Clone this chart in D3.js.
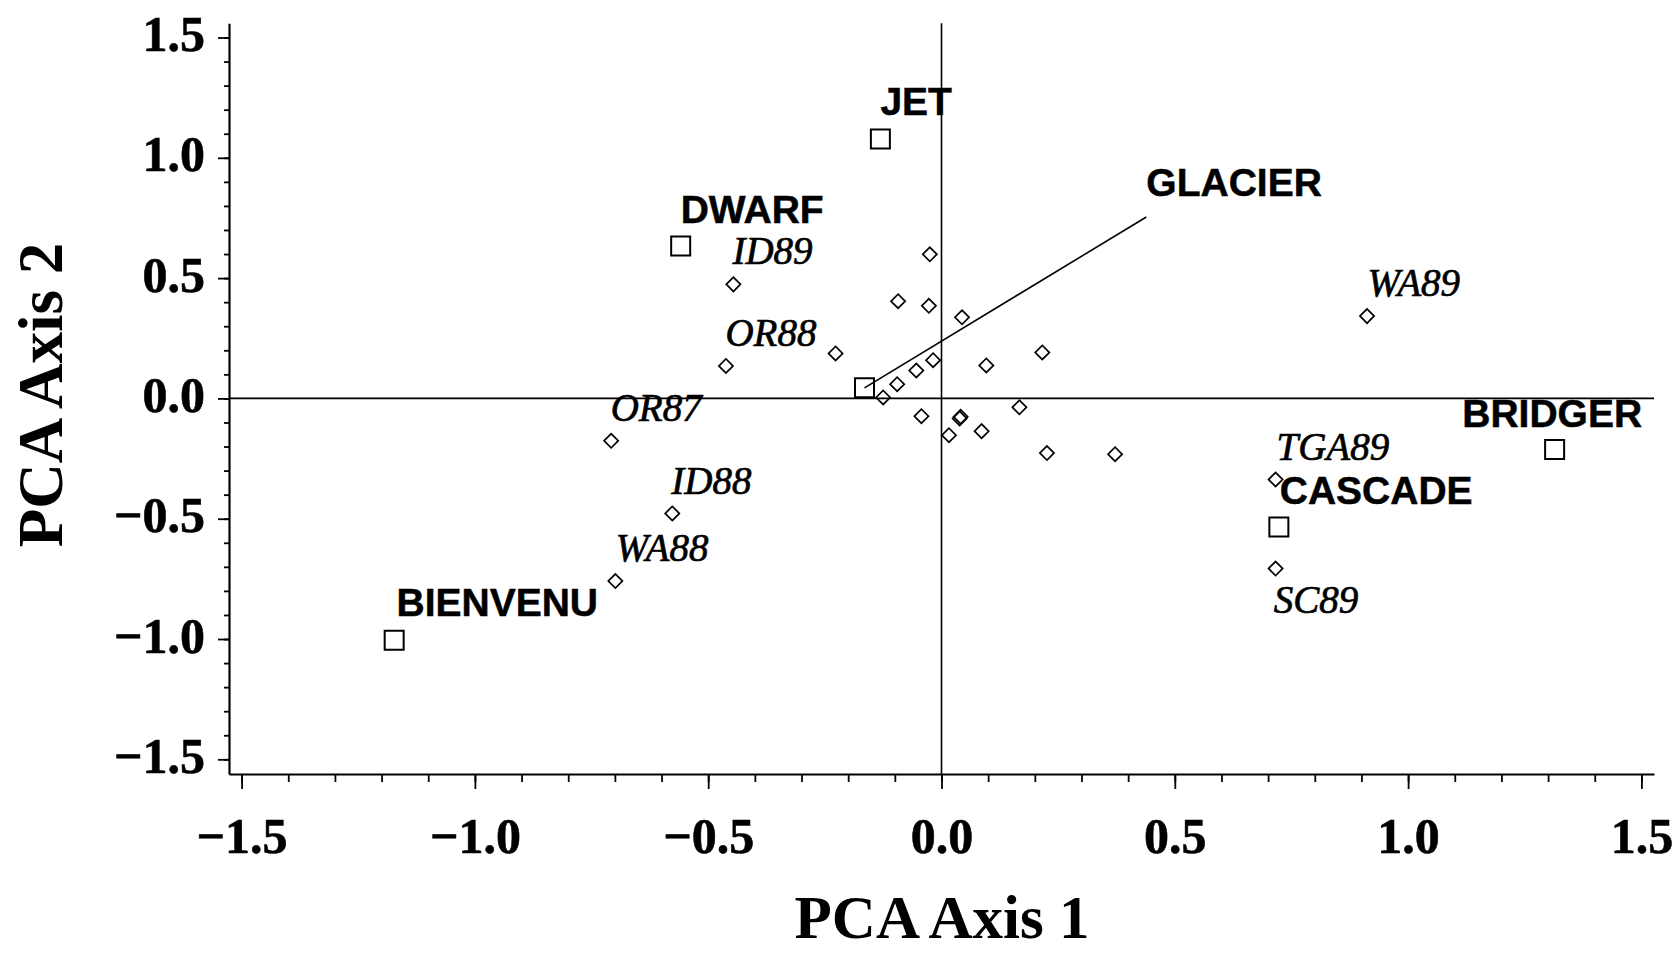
<!DOCTYPE html>
<html><head><meta charset="utf-8">
<script src="https://cdn.jsdelivr.net/npm/d3@7"></script>
<style>body{margin:0;background:#fff} svg{display:block}</style>
</head><body><svg id="c" width="1675" height="953"></svg>
<script>
// Cultivars (squares)
const cultivars = ["JET","DWARF","GLACIER","BRIDGER","CASCADE","BIENVENU"];
const cultivarX = [-0.131,-0.559,-0.165,1.314,0.723,-1.173];
const cultivarY = [1.078,0.633,0.044,-0.212,-0.534,-1.005];
const cultivarLabelX = [-0.131,-0.559,0.439,1.116,0.725,-1.168];
const cultivarLabelY = [1.176,0.727,0.843,-0.119,-0.437,-0.903];
// Labelled sites (diamonds)
const sites = ["ID89","OR88","OR87","ID88","WA88","WA89","TGA89","SC89"];
const siteX = [-0.446,-0.462,-0.708,-0.577,-0.699,0.912,0.716,0.716];
const siteY = [0.474,0.135,-0.176,-0.478,-0.759,0.342,-0.337,-0.707];
const siteLabelX = [-0.448,-0.463,-0.709,-0.579,-0.698,0.913,0.718,0.712];
const siteLabelY = [0.560,0.219,-0.092,-0.396,-0.676,0.425,-0.257,-0.890];
// Unlabelled sites (diamonds)
const otherX = [-0.025,-0.227,-0.093,-0.027,0.044,0.216,-0.018,0.096,-0.054,-0.095,-0.125,-0.043,0.041,0.039,0.167,0.016,0.086,0.226,0.372];
const otherY = [0.599,0.187,0.404,0.385,0.337,0.191,0.159,0.137,0.116,0.059,0.004,-0.074,-0.076,-0.083,-0.037,-0.153,-0.136,-0.227,-0.232];
// Glacier vector
const vectorX = [-0.165,0.439];
const vectorY = [0.044,0.754];
// Ticks
const tickValues = [-1.5,-1.0,-0.5,0,0.5,1.0,1.5];
const tickLabels = ["\u22121.5","\u22121.0","\u22120.5","0.0","0.5","1.0","1.5"];
const minorTicks = d3.range(-15,16).map(i=>i/10);

const svg = d3.select("#c");
const x = d3.scaleLinear().domain([-1.527,1.527]).range([229,1654]);
const y = d3.scaleLinear().domain([-1.561,1.559]).range([774,23.3]);
const serif = "'Liberation Serif','Times New Roman',serif";
const sans = "'Liberation Sans',Arial,Helvetica,sans-serif";

// zero lines
svg.append("line").attr("x1",x(0)).attr("x2",x(0)).attr("y1",y.range()[1]).attr("y2",y.range()[0])
  .attr("stroke","#000").attr("stroke-width",1.6);
svg.append("line").attr("x1",x.range()[0]).attr("x2",x.range()[1]).attr("y1",y(0)).attr("y2",y(0))
  .attr("stroke","#000").attr("stroke-width",1.6);

// y axis
const fmt = v => tickLabels[tickValues.indexOf(v)];
const gyMinor = svg.append("g").attr("transform",`translate(${x.range()[0]},0)`)
  .call(d3.axisLeft(y).tickValues(minorTicks).tickSize(5).tickFormat(""));
gyMinor.select(".domain").remove();
const gy = svg.append("g").attr("transform",`translate(${x.range()[0]},0)`)
  .call(d3.axisLeft(y).tickValues(tickValues).tickSize(11).tickSizeOuter(0).tickPadding(13).tickFormat(fmt));
gy.selectAll("text").attr("dy","0.26em");
// x axis
const gxMinor = svg.append("g").attr("transform",`translate(0,${y.range()[0]})`)
  .call(d3.axisBottom(x).tickValues(minorTicks).tickSize(8).tickFormat(""));
gxMinor.select(".domain").remove();
const gx = svg.append("g").attr("transform",`translate(0,${y.range()[0]})`)
  .call(d3.axisBottom(x).tickValues(tickValues).tickSize(15).tickSizeOuter(0).tickFormat(fmt));
gx.selectAll("text").attr("y",79).attr("dy",0);

[gy,gx,gyMinor,gxMinor].forEach(g=>{
  g.attr("font-family",serif).attr("font-size",50).attr("font-weight","bold");
  g.selectAll("line").attr("stroke","#000").attr("stroke-width",1.8);
  g.selectAll("path").attr("stroke","#000").attr("stroke-width",2.2);
  g.selectAll("text").attr("fill","#000").attr("stroke","#000").attr("stroke-width",0.6);
});

// axis titles
svg.append("text").attr("x",942).attr("y",938).attr("text-anchor","middle")
  .attr("font-family",serif).attr("font-weight","bold").attr("font-size",61).text("PCA Axis 1");
svg.append("text").attr("transform","translate(62,395) rotate(-90)").attr("text-anchor","middle")
  .attr("font-family",serif).attr("font-weight","bold").attr("font-size",63).text("PCA Axis 2");

// glacier vector
svg.append("line").attr("x1",x(vectorX[0])).attr("y1",y(vectorY[0])).attr("x2",x(vectorX[1])).attr("y2",y(vectorY[1]))
  .attr("stroke","#000").attr("stroke-width",1.6);

// diamonds
const diamond = d3.symbol().type(d3.symbolSquare).size(100);
const diaData = siteX.map((v,i)=>[v,siteY[i]]).concat(otherX.map((v,i)=>[v,otherY[i]]));
svg.append("g").selectAll("path").data(diaData).join("path")
  .attr("d",diamond)
  .attr("transform",d=>`translate(${x(d[0])},${y(d[1])}) rotate(45)`)
  .attr("fill","none").attr("stroke","#000").attr("stroke-width",1.7);

// squares
const square = d3.symbol().type(d3.symbolSquare).size(361);
svg.append("g").selectAll("path").data(cultivars).join("path")
  .attr("d",square)
  .attr("transform",(d,i)=>`translate(${x(cultivarX[i])},${y(cultivarY[i])})`)
  .attr("fill","none").attr("stroke","#000").attr("stroke-width",2);

// cultivar labels
svg.append("g").selectAll("text").data(cultivars).join("text")
  .attr("x",(d,i)=>x(cultivarLabelX[i])).attr("y",(d,i)=>y(cultivarLabelY[i]))
  .attr("font-family",sans).attr("font-weight","bold").attr("font-size",39).attr("fill","#000")
  .attr("stroke","#000").attr("stroke-width",0.5)
  .text(d=>d);
// site labels
svg.append("g").selectAll("text").data(sites).join("text")
  .attr("x",(d,i)=>x(siteLabelX[i])).attr("y",(d,i)=>y(siteLabelY[i]))
  .attr("font-family",serif).attr("font-style","italic").attr("font-size",39).attr("fill","#000")
  .attr("stroke","#000").attr("stroke-width",0.7)
  .text(d=>d);
</script></body></html>
